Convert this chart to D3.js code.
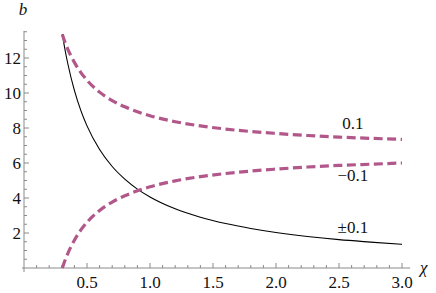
<!DOCTYPE html>
<html>
<head>
<meta charset="utf-8">
<script src="https://cdn.jsdelivr.net/npm/d3@7"></script>
</head>
<body style="margin:0">
<script>
// values
var chi      = [0.304, 0.31, 0.32, 0.33, 0.35, 0.4, 0.45, 0.5, 0.6, 0.7, 0.8, 0.9, 1.0, 1.2, 1.4, 1.6, 1.8, 2.0, 2.25, 2.5, 2.75, 3.0];
var bBoth    = [13.36, 13.1, 12.69, 12.3, 11.6, 10.15, 9.02, 8.12, 6.77, 5.8, 5.08, 4.51, 4.06, 3.38, 2.9, 2.54, 2.26, 2.03, 1.8, 1.62, 1.48, 1.35];
var bPlus    = [13.35, 13.22, 13.01, 12.82, 12.47, 11.75, 11.18, 10.73, 10.05, 9.57, 9.21, 8.93, 8.70, 8.36, 8.12, 7.94, 7.80, 7.69, 7.57, 7.48, 7.41, 7.35];
var bMinus   = [0.0, 0.12, 0.33, 0.52, 0.87, 1.59, 2.16, 2.61, 3.29, 3.77, 4.13, 4.41, 4.64, 4.98, 5.22, 5.40, 5.54, 5.65, 5.77, 5.86, 5.93, 6.0];
var xTicks   = ["0.5", "1.0", "1.5", "2.0", "2.5", "3.0"];
var yTicks   = ["2", "4", "6", "8", "10", "12"];
var curveLabels = [
  {text: "0.1",  x: 2.61, y: 7.95},
  {text: "\u22120.1", x: 2.61, y: 4.98},
  {text: "\u00b10.1", x: 2.61, y: 2.0}
];

var W = 436, H = 293;
var x = d3.scaleLinear().domain([0, 3]).range([24, 402]);
var y = d3.scaleLinear().domain([0, 12]).range([268, 58]);

var svg = d3.select("body").append("svg").attr("width", W).attr("height", H);
var axisCol = "#8a8a8a";

function label(sel){
  return sel.attr("font-family", "Times New Roman").attr("font-size", 17).attr("fill", "#111");
}

// x axis
svg.append("line").attr("x1", x(0) - 2).attr("x2", x(3.065)).attr("y1", y(0)).attr("y2", y(0))
  .attr("stroke", axisCol).attr("stroke-width", 1);
var xMinor = d3.range(1, 31).map(function(i){ return i / 10; });
svg.selectAll(".xt").data(xMinor).enter().append("line")
  .attr("x1", function(d){ return x(d); }).attr("x2", function(d){ return x(d); })
  .attr("y1", y(0)).attr("y2", function(d){ return y(0) - (Math.abs(d * 2 - Math.round(d * 2)) < 1e-6 ? 5 : 3); })
  .attr("stroke", axisCol).attr("stroke-width", 1);
label(svg.selectAll(".xl").data(xTicks).enter().append("text"))
  .attr("x", function(d){ return x(+d); }).attr("y", 288)
  .attr("text-anchor", "middle")
  .text(function(d){ return d; });

// y axis
svg.append("line").attr("x1", x(0)).attr("x2", x(0)).attr("y1", y(0) + 4).attr("y2", y(13.55))
  .attr("stroke", axisCol).attr("stroke-width", 1);
var yMinor = d3.range(1, 28).map(function(i){ return i / 2; });
svg.selectAll(".yt").data(yMinor).enter().append("line")
  .attr("y1", function(d){ return y(d); }).attr("y2", function(d){ return y(d); })
  .attr("x1", x(0)).attr("x2", function(d){ return x(0) + (d % 2 === 0 ? 5 : 3); })
  .attr("stroke", axisCol).attr("stroke-width", 1);
label(svg.selectAll(".yl").data(yTicks).enter().append("text"))
  .attr("x", 21).attr("y", function(d){ return y(+d) + 6; })
  .attr("text-anchor", "end")
  .text(function(d){ return d; });

// axis labels
label(svg.append("text")).attr("x", 23).attr("y", 15).attr("text-anchor", "middle")
  .attr("font-style", "italic").text("b");
label(svg.append("text")).attr("x", 420).attr("y", 273)
  .attr("font-style", "italic").text("\u03c7");

// curves
var pts = function(ys){ return chi.map(function(c, i){ return [c, ys[i]]; }); };
var line = d3.line().x(function(d){ return x(d[0]); }).y(function(d){ return y(d[1]); })
  .curve(d3.curveMonotoneX);

svg.append("path").attr("d", line(pts(bBoth)))
  .attr("fill", "none").attr("stroke", "#000").attr("stroke-width", 1.1);

[bPlus, bMinus].forEach(function(s){
  svg.append("path").attr("d", line(pts(s)))
    .attr("fill", "none").attr("stroke", "#b2578a").attr("stroke-width", 3.2)
    .attr("stroke-dasharray", "9,4.5");
});

label(svg.selectAll(".cl").data(curveLabels).enter().append("text"))
  .attr("x", function(d){ return x(d.x); }).attr("y", function(d){ return y(d.y); })
  .attr("text-anchor", "middle")
  .text(function(d){ return d.text; });
</script>
</body>
</html>
